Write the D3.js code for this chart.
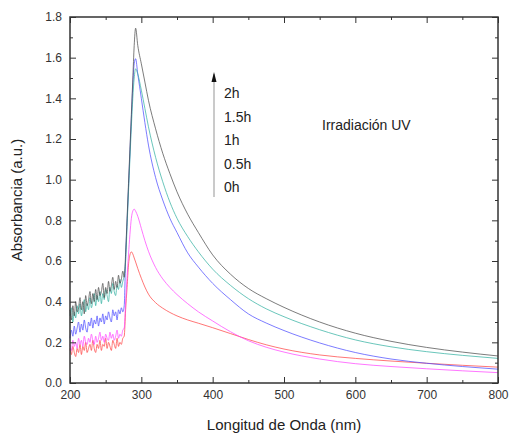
<!DOCTYPE html>
<html><head><meta charset="utf-8">
<script src="https://cdn.jsdelivr.net/npm/d3@7"></script>
<style>
html,body{margin:0;padding:0;background:#fff;}
svg{display:block;font-family:"Liberation Sans",Arial,sans-serif;}
</style></head>
<body><svg id="c" width="509" height="434"></svg>
<script>
// ---- data ----
const noiseWl = [200,202,204,206,208,210,212,214,216,218,220,222,224,226,228,230,232,234,236,238,240,242,244,246,248,250,252,254,256,258,260,262,264,266,268,270,272,274,276];
const peakWl = [278,280,282,284,286,288,290,292,295,300,305,310,320,330,340,350,365,380,400,425,450,475,500,550,600,650,700,750,800];

const noise2h  = [0.36,0.31,0.38,0.33,0.40,0.35,0.37,0.42,0.36,0.40,0.34,0.43,0.38,0.41,0.45,0.39,0.44,0.40,0.46,0.41,0.47,0.43,0.45,0.49,0.42,0.47,0.44,0.50,0.45,0.48,0.52,0.46,0.50,0.47,0.53,0.49,0.51,0.55,0.52];
const noise15h = [0.33,0.37,0.30,0.35,0.32,0.38,0.34,0.39,0.33,0.37,0.41,0.35,0.39,0.36,0.42,0.37,0.40,0.44,0.38,0.43,0.40,0.45,0.39,0.44,0.41,0.46,0.43,0.40,0.47,0.44,0.49,0.45,0.43,0.48,0.46,0.51,0.47,0.50,0.53];
const noise1h  = [0.22,0.26,0.23,0.28,0.24,0.27,0.30,0.25,0.29,0.26,0.31,0.27,0.25,0.30,0.28,0.32,0.27,0.31,0.29,0.33,0.28,0.32,0.30,0.34,0.29,0.33,0.31,0.35,0.32,0.30,0.36,0.33,0.35,0.31,0.36,0.34,0.37,0.35,0.38];
const noise05h = [0.19,0.16,0.21,0.18,0.20,0.17,0.22,0.19,0.21,0.18,0.23,0.20,0.19,0.22,0.20,0.24,0.21,0.19,0.23,0.20,0.22,0.25,0.21,0.23,0.20,0.24,0.22,0.21,0.25,0.22,0.24,0.21,0.23,0.26,0.22,0.24,0.23,0.26,0.27];
const noise0h  = [0.17,0.14,0.18,0.15,0.13,0.17,0.15,0.19,0.14,0.18,0.16,0.20,0.15,0.17,0.19,0.16,0.21,0.17,0.15,0.19,0.17,0.21,0.16,0.19,0.18,0.22,0.17,0.20,0.18,0.16,0.21,0.19,0.17,0.22,0.18,0.20,0.19,0.22,0.23];

const peak2h  = [0.64,0.81,0.98,1.15,1.32,1.49,1.66,1.745,1.66,1.57,1.48,1.39,1.25,1.13,1.03,0.94,0.83,0.74,0.63,0.535,0.465,0.415,0.372,0.300,0.245,0.205,0.175,0.152,0.133];
const peak15h = [0.60,0.77,0.94,1.10,1.26,1.40,1.50,1.545,1.52,1.44,1.35,1.26,1.11,0.99,0.89,0.81,0.72,0.645,0.56,0.480,0.415,0.365,0.326,0.262,0.212,0.178,0.154,0.136,0.121];
const peak1h  = [0.62,0.79,0.96,1.13,1.30,1.46,1.57,1.595,1.52,1.40,1.28,1.17,1.01,0.90,0.81,0.74,0.64,0.57,0.49,0.410,0.340,0.295,0.258,0.197,0.150,0.118,0.097,0.081,0.068];
const peak05h = [0.40,0.52,0.63,0.73,0.81,0.845,0.855,0.845,0.82,0.76,0.70,0.648,0.568,0.512,0.47,0.435,0.39,0.35,0.305,0.252,0.208,0.176,0.152,0.118,0.095,0.081,0.070,0.060,0.051];
const peak0h  = [0.36,0.47,0.58,0.63,0.645,0.635,0.615,0.595,0.563,0.515,0.472,0.437,0.395,0.368,0.347,0.330,0.310,0.294,0.272,0.243,0.214,0.188,0.167,0.138,0.121,0.108,0.097,0.087,0.078];

const seriesNames = ["0h","0.5h","1h","1.5h","2h"];
const seriesColors = ["#ff4040","#ff40ff","#4848ff","#30b0a0","#484848"];
const noiseSets = [noise0h,noise05h,noise1h,noise15h,noise2h];
const peakSets = [peak0h,peak05h,peak1h,peak15h,peak2h];

const xTicks = [200,300,400,500,600,700,800];
const yTicks = [0.0,0.2,0.4,0.6,0.8,1.0,1.2,1.4,1.6,1.8];
const legendLabels = ["2h","1.5h","1h","0.5h","0h"];

// ---- layout ----
const svg = d3.select("#c");
const L = 70, R = 498, T = 17, B = 383;
const x = d3.scaleLinear().domain([200,800]).range([L,R]);
const y = d3.scaleLinear().domain([0,1.8]).range([B,T]);

const axisColor = "#333";

// curves
const line = d3.line().x(d=>x(d[0])).y(d=>y(d[1])).curve(d3.curveMonotoneX);
const g = svg.append("g");
seriesNames.forEach((n,i)=>{
  const pts = noiseWl.map((w,j)=>[w,noiseSets[i][j]]).concat(peakWl.map((w,j)=>[w,peakSets[i][j]]));
  g.append("path").datum(pts).attr("d",line).attr("fill","none")
   .attr("stroke",seriesColors[i]).attr("stroke-width",0.9).attr("stroke-opacity",0.8);
});

// axes
const minorX = d3.range(250,800,100);
const minorY = d3.range(0.1,1.8,0.2);
function styleAxis(sel){
  sel.select(".domain").remove();
  sel.selectAll("line").attr("stroke",axisColor).attr("stroke-width",1);
  sel.selectAll("text").attr("fill","#333").style("font-size","12px").style("font-family","'Liberation Sans',Arial,sans-serif");
}
svg.append("g").attr("transform",`translate(0,${B})`)
  .call(d3.axisBottom(x).tickValues(xTicks).tickFormat(d3.format("d")).tickSizeInner(-6).tickSizeOuter(0).tickPadding(7)).call(styleAxis);
svg.append("g").attr("transform",`translate(0,${B})`)
  .call(d3.axisBottom(x).tickValues(minorX).tickFormat("").tickSizeInner(-3).tickSizeOuter(0)).call(styleAxis);
svg.append("g").attr("transform",`translate(0,${T})`)
  .call(d3.axisTop(x).tickValues(xTicks).tickFormat("").tickSizeInner(-6).tickSizeOuter(0)).call(styleAxis);
svg.append("g").attr("transform",`translate(0,${T})`)
  .call(d3.axisTop(x).tickValues(minorX).tickFormat("").tickSizeInner(-3).tickSizeOuter(0)).call(styleAxis);
svg.append("g").attr("transform",`translate(${L},0)`)
  .call(d3.axisLeft(y).tickValues(yTicks).tickFormat(d3.format(".1f")).tickSizeInner(-6).tickSizeOuter(0).tickPadding(8)).call(styleAxis);
svg.append("g").attr("transform",`translate(${L},0)`)
  .call(d3.axisLeft(y).tickValues(minorY).tickFormat("").tickSizeInner(-3).tickSizeOuter(0)).call(styleAxis);
svg.append("g").attr("transform",`translate(${R},0)`)
  .call(d3.axisRight(y).tickValues(yTicks).tickFormat("").tickSizeInner(-6).tickSizeOuter(0)).call(styleAxis);
svg.append("g").attr("transform",`translate(${R},0)`)
  .call(d3.axisRight(y).tickValues(minorY).tickFormat("").tickSizeInner(-3).tickSizeOuter(0)).call(styleAxis);

// frame
svg.append("rect").attr("x",L).attr("y",T).attr("width",R-L).attr("height",B-T)
  .attr("fill","none").attr("stroke",axisColor).attr("stroke-width",1.5);

// axis titles
svg.append("text").attr("x",(L+R)/2).attr("y",430).attr("text-anchor","middle")
  .style("font-size","15px").attr("fill","#222").text("Longitud de Onda (nm)");
svg.append("text").attr("transform",`translate(22,${(T+B)/2}) rotate(-90)`).attr("text-anchor","middle")
  .style("font-size","15px").attr("fill","#222").text("Absorbancia (a.u.)");

// legend arrow
svg.append("line").attr("x1",214).attr("x2",214).attr("y1",197).attr("y2",74)
  .attr("stroke","#b8b8b8").attr("stroke-width",1.5);
svg.append("path").attr("d","M211.5,82 L214,72 L216.5,82 Z").attr("fill","#111");
legendLabels.forEach((t,i)=>{
  svg.append("text").attr("x",224).attr("y",98+i*23.5).style("font-size","14px").attr("fill","#222").text(t);
});
svg.append("text").attr("x",322).attr("y",130).style("font-size","14px").attr("fill","#222").text("Irradiación UV");
</script></body></html>
